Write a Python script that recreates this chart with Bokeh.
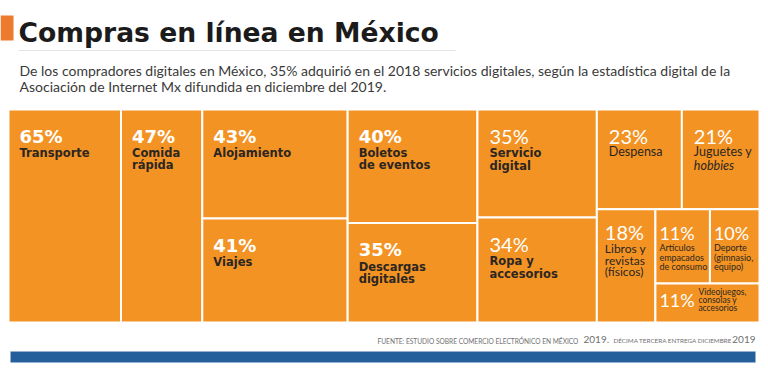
from bokeh.plotting import figure
from bokeh.models import Range1d, Label, BoxAnnotation
from bokeh.core.properties import value
from bokeh.embed import file_html
from bokeh.resources import INLINE

# ---------------- data ----------------
title = "Compras en línea en México"
subtitle_lines = [
    "De los compradores digitales en México, 35% adquirió en el 2018 servicios digitales, según la estadística digital de la",
    "Asociación de Internet Mx difundida en diciembre del 2019.",
]
categories = [
    ["Transporte"],
    ["Comida", "rápida"],
    ["Alojamiento"],
    ["Viajes"],
    ["Boletos", "de eventos"],
    ["Descargas", "digitales"],
    ["Servicio", "digital"],
    ["Ropa y", "accesorios"],
    ["Despensa"],
    ["Juguetes y", "hobbies"],
    ["Libros y", "revistas", "(físicos)"],
    ["Artículos", "empacados", "de consumo"],
    ["Deporte", "(gimnasio,", "equipo)"],
    ["Videojuegos,", "consolas y", "accesorios"],
]
values = [65, 47, 43, 41, 40, 35, 35, 34, 23, 21, 18, 11, 10, 11]
source_parts = [
    "FUENTE: ESTUDIO SOBRE COMERCIO ELECTRÓNICO EN MÉXICO",
    "2019.",
    "DÉCIMA TERCERA ENTREGA DICIEMBRE",
    "2019",
]
italic_words = {"hobbies"}

# treemap structure (slice-and-dice, h = split horizontally into columns)
tree = ("h", [0, 1, ("v", [2, 3]), ("v", [4, 5]), ("v", [6, 7]),
              ("v", [("h", [8, 9]),
                     ("h", [10, ("v", [("h", [11, 12]), 13])])])])


def total(node):
    if isinstance(node, int):
        return values[node]
    return sum(total(c) for c in node[1])


def layout(node, x0, y0, x1, y1, out):
    if isinstance(node, int):
        out[node] = (x0, y0, x1, y1)
        return
    d, kids = node
    s = total(node)
    pos = x0 if d == "h" else y0
    for k in kids:
        frac = total(k) / s
        if d == "h":
            w = (x1 - x0) * frac
            layout(k, pos, y0, pos + w, y1, out)
            pos += w
        else:
            h = (y1 - y0) * frac
            layout(k, x0, pos, x1, pos + h, out)
            pos += h


W, H = 768, 385
ORANGE = "#F39323"
DARK = "#2b2622"
HEAVY_FONT = "DejaVu Sans"
LIGHT_FONT = "Lato"
SHIFT = 0.3  # baseline correction, in em


def by(y, size):
    return y - SHIFT * size


p = figure(width=W, height=H, x_range=Range1d(0, W), y_range=Range1d(H, 0),
           output_backend="svg", toolbar_location=None,
           x_axis_type=None, y_axis_type=None, min_border=0)
p.grid.visible = False
p.outline_line_color = None
p.background_fill_color = "white"
p.border_fill_color = "white"

# ---------------- header ----------------
p.add_layout(BoxAnnotation(left=0, right=13, top=15, bottom=40,
                           fill_color="#EE7A2E", fill_alpha=1, line_color=None))
p.add_layout(Label(x=18, y=by(40, 26.6), text=title, text_font=HEAVY_FONT,
                   text_font_size="26.6px", text_font_style="bold",
                   text_color="#1b1b1b", text_baseline="alphabetic"))
p.add_layout(BoxAnnotation(left=18, right=455, top=49.5, bottom=50.5,
                           fill_color="#e4e4e4", fill_alpha=1, line_color=None))
for i, line in enumerate(subtitle_lines):
    p.add_layout(Label(x=19, y=by(74 + 16.5 * i, 14), text=line, text_font=LIGHT_FONT,
                       text_font_size="14px", text_color="#3a3a3a",
                       text_baseline="alphabetic"))

# ---------------- treemap ----------------
rects = {}
layout(tree, 8, 109, 759, 322, rects)
idx = list(range(len(values)))
p.quad(left=[rects[i][0] for i in idx], right=[rects[i][2] for i in idx],
       top=[rects[i][1] for i in idx], bottom=[rects[i][3] for i in idx],
       fill_color=ORANGE, line_color="white", line_width=2)

styles = {
    "big":    dict(pf=HEAVY_FONT, ps="bold", pz=18, pdy=32, nf=HEAVY_FONT, ns="bold", nz=11.5, ndy=47, step=12, pad=11, ndx=0),
    "mid":    dict(pf=LIGHT_FONT, ps="normal", pz=20, pdy=32, nf=HEAVY_FONT, ns="bold", nz=11.5, ndy=47, step=12.5, pad=12, ndx=0),
    "small":  dict(pf=LIGHT_FONT, ps="normal", pz=20, pdy=32, nf=LIGHT_FONT, ns="normal", nz=12.5, ndy=46, step=14, pad=12, ndx=0),
    "libros": dict(pf=LIGHT_FONT, ps="normal", pz=20, pdy=29, nf=LIGHT_FONT, ns="normal", nz=12, ndy=43, step=11.5, pad=8, ndx=0),
    "tiny":   dict(pf=LIGHT_FONT, ps="normal", pz=18, pdy=29, nf=LIGHT_FONT, ns="normal", nz=9, ndy=41, step=9.5, pad=4, ndx=0),
    "video":  dict(pf=LIGHT_FONT, ps="normal", pz=18, pdy=22, nf=LIGHT_FONT, ns="normal", nz=8.5, ndy=11, step=8, pad=4, ndx=39),
}
cell_style = ["big"] * 6 + ["mid"] * 2 + ["small"] * 2 + ["libros", "tiny", "tiny", "video"]

for i in idx:
    st = styles[cell_style[i]]
    x0, y0, x1, y1 = rects[i]
    p.text(x=[x0 + st["pad"]], y=[by(y0 + st["pdy"], st["pz"])], text=[f"{values[i]}%"],
           text_font=value(st["pf"]), text_font_style=st["ps"],
           text_font_size=f"{st['pz']}px", text_color="white",
           text_baseline="alphabetic", text_align="left")
    for j, line in enumerate(categories[i]):
        style = "italic" if line in italic_words else st["ns"]
        p.text(x=[x0 + st["pad"] + st["ndx"]],
               y=[by(y0 + st["ndy"] + j * st["step"], st["nz"])], text=[line],
               text_font=value(st["nf"]), text_font_style=style,
               text_font_size=f"{st['nz']}px", text_color=DARK,
               text_baseline="alphabetic", text_align="left")

# ---------------- footer ----------------
anchors = [(377, "left"), (583, "left"), (613, "left"), (755, "right")]
sizes = [6.6, 10, 6.3, 10]
for t, (ax, al), s in zip(source_parts, anchors, sizes):
    p.add_layout(Label(x=ax, y=by(342, s), text=t, text_font=LIGHT_FONT,
                       text_font_size=f"{s}px", text_color="#6f6f6f",
                       text_align=al, text_baseline="alphabetic"))
p.add_layout(BoxAnnotation(left=10, right=755, top=351, bottom=362,
                           fill_color="#245F9B", fill_alpha=1,
                           line_color="#9dbbd9", line_width=1))

open("out.html", "w").write(file_html(p, INLINE))
